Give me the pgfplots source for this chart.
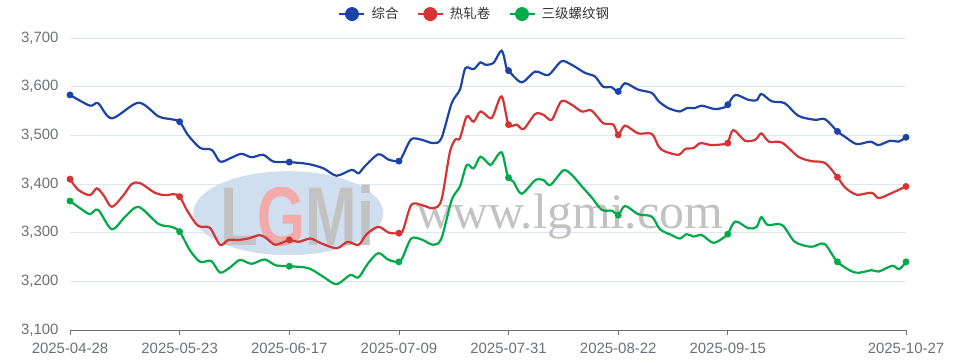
\documentclass[border=0pt]{standalone}
\usepackage{pgfplots}
\pgfplotsset{compat=1.18}
\usepackage{fontspec}
\setmainfont{Liberation Sans}
\newfontfamily\cjk{Noto Sans CJK SC}
\newfontfamily\wmserif{Liberation Serif}
\definecolor{cblue}{RGB}{28,68,168}
\definecolor{cred}{RGB}{214,52,52}
\definecolor{cgreen}{RGB}{0,170,72}
\definecolor{tickgray}{HTML}{6E7079}
\definecolor{gridc}{HTML}{E0E6F1}
\definecolor{wmblue}{HTML}{CFDFF0}
\definecolor{wmgray}{HTML}{C2C2C2}
\definecolor{wmpink}{HTML}{F5AAAA}
\definecolor{legtext}{HTML}{333333}
\begin{document}
\begin{tikzpicture}
\path[use as bounding box] (-70bp,-34bp) rectangle (887bp,330bp);
\begin{axis}[
  at={(0,0)}, anchor=south west,
  scale only axis, width=836bp, height=292bp,
  xmin=0, xmax=122, ymin=3100, ymax=3700,
  xtick={0,16,32,48,64,80,96,122},
  xticklabels={2025-04-28,2025-05-23,2025-06-17,2025-07-09,2025-07-31,2025-08-22,2025-09-15,2025-10-27},
  ytick={3100,3200,3300,3400,3500,3600,3700},
  ymajorgrids, major grid style={gridc, line width=0.8bp},
  axis lines*=left,
  y axis line style={draw=none},
  x axis line style={tickgray, line width=0.8bp},
  tick align=outside, major tick length=5bp,
  xtick style={tickgray, line width=0.8bp},
  ytick style={draw=none},
  tick label style={font=\fontsize{15}{18}\selectfont, text=tickgray},
  xticklabel style={yshift=-5bp},
  /pgf/number format/assume math mode=true,
  /pgf/number format/1000 sep={,},
  scaled y ticks=false,
  yticklabel style={xshift=-3bp},
  legend columns=3,
  legend style={draw=none, fill=none, at={(0.484,1.082)}, anchor=center,
    font=\cjk\fontsize{13.5}{16}\selectfont, text=legtext,
    /tikz/every odd column/.append style={column sep=4bp},
    /tikz/every even column/.append style={column sep=16bp}},
  legend image code/.code={\draw[#1,line width=2.4bp] (0bp,0bp) -- (25bp,0bp); \fill[#1,draw=none] (12.5bp,0bp) circle[radius=7bp];},
  every axis plot/.append style={line width=2.2bp},
]
% watermark
\fill[wmblue] (rel axis cs:0.261,0.40) ellipse [x radius=95bp, y radius=42bp];
\node[font=\bfseries\fontsize{62}{62}\selectfont, text=wmgray, yscale=1.35, transform shape] at (rel axis cs:0.272,0.39) {L\textcolor{wmpink}{G}Mi};
\node[anchor=base west, font=\wmserif\fontsize{50}{50}\selectfont, text=wmgray] at (rel axis cs:0.41,0.349) {www.lgmi.com};

\addplot[cblue, smooth, mark=none] coordinates {
(0,3583)(2.9,3561)(4.1,3566)(6.1,3535)(10,3567)(12.9,3539)(14.8,3533)(16,3528)(17.2,3501)(19,3474)(20.7,3470)(21.9,3446)(23.4,3453)(25,3462)(26.5,3455)(28.2,3460)(29.7,3446)(32,3445)(34.8,3441)(37,3432)(38.9,3417)(41.1,3429)(42.1,3422)(43,3436)(45,3461)(46.5,3450)(48,3447)(48.6,3460)(49.8,3492)(51.3,3491)(53,3484)(54.2,3494)(55.7,3566)(56.9,3594)(57.7,3638)(58.9,3636)(59.9,3650)(60.6,3645)(61.8,3649)(63,3674)(63.7,3638)(64,3633)(65.9,3609)(67.9,3631)(69.8,3624)(71.7,3652)(73.2,3645)(75.2,3628)(76.6,3621)(77.8,3600)(79,3599)(80,3590)(81,3607)(82.9,3594)(84.9,3587)(85.9,3570)(87.3,3556)(89,3549)(90,3556)(91.2,3556)(92.2,3561)(94.1,3554)(95.6,3558)(96,3563)(97.1,3583)(99,3573)(100.2,3572)(100.9,3585)(102.4,3570)(104.3,3566)(106.3,3540)(108.7,3532)(110.2,3533)(112,3508)(113.1,3497)(114.8,3482)(116.8,3487)(118,3480)(119.7,3489)(120.9,3487)(122,3496)
};
\addlegendentry{综合}
\addplot[cred, smooth, mark=none] coordinates {
(0,3410)(1.2,3388)(2.9,3377)(3.9,3391)(4.9,3377)(6.1,3353)(7.8,3377)(9,3400)(10.2,3402)(12.4,3382)(13.9,3377)(15.1,3379)(16,3374)(17.2,3343)(18.7,3314)(20.4,3310)(21.9,3275)(23.1,3285)(24.6,3285)(26,3288)(27.7,3295)(28.7,3288)(30,3275)(32,3285)(33.3,3281)(35.1,3288)(36.5,3279)(38.9,3268)(40.5,3281)(42.1,3275)(43.3,3297)(45,3312)(46.5,3300)(48,3299)(48.6,3305)(49.8,3357)(51.3,3357)(53,3350)(54.2,3367)(55.4,3463)(56.2,3491)(56.9,3494)(57.9,3539)(58.9,3528)(59.9,3549)(61.3,3535)(61.8,3542)(63,3580)(64,3522)(65.2,3522)(66.2,3513)(67.9,3544)(69.1,3542)(70.3,3532)(71.7,3570)(73.2,3563)(74.7,3549)(76.1,3551)(77.8,3525)(79.3,3522)(80,3501)(81,3520)(82.9,3504)(84.9,3503)(85.9,3477)(86.8,3467)(88.8,3460)(89.8,3472)(91,3474)(92,3484)(93.6,3480)(95.6,3482)(96,3484)(96.8,3511)(98.5,3489)(100,3491)(100.9,3504)(102,3487)(103.9,3485)(106.3,3456)(108.2,3447)(110.2,3443)(112,3414)(113.1,3393)(114.8,3378)(117,3382)(118,3371)(119.7,3380)(122,3395)
};
\addlegendentry{热轧卷}
\addplot[cgreen, smooth, mark=none] coordinates {
(0,3365)(1.5,3350)(2.9,3338)(4.1,3347)(6.1,3307)(8,3332)(10,3353)(12.9,3318)(14.8,3312)(16,3302)(17.5,3264)(19,3240)(20.6,3242)(21.9,3218)(23.4,3229)(24.8,3244)(26.5,3236)(28.4,3245)(30,3233)(32,3231)(34.8,3227)(37,3209)(38.9,3194)(40.9,3213)(42.1,3208)(43.5,3237)(45,3258)(46.5,3244)(48,3240)(48.6,3251)(49.8,3288)(51.3,3286)(53,3275)(54.2,3288)(55.7,3367)(56.9,3395)(57.9,3439)(58.9,3432)(59.9,3456)(61.3,3439)(61.8,3446)(63,3465)(63.9,3415)(64.7,3405)(65.9,3380)(67.9,3408)(69.1,3408)(70.1,3398)(72,3428)(73.2,3419)(74.7,3395)(76.1,3373)(77.6,3347)(79.1,3345)(80,3336)(81,3355)(82.9,3338)(84.9,3333)(86.1,3307)(87.8,3295)(89,3288)(90,3297)(91,3292)(92.2,3295)(93.9,3279)(95.6,3292)(96,3297)(97.1,3323)(99,3309)(100.2,3312)(100.9,3332)(101.8,3316)(103.9,3316)(105.8,3281)(108.2,3271)(110.1,3277)(112,3240)(114.6,3218)(117,3223)(118,3220)(120,3232)(121,3225)(122,3240)
};
\addlegendentry{三级螺纹钢}

\addplot[cblue, only marks, mark=*, mark size=2.3bp, forget plot] coordinates {(0,3583)(16,3528)(32,3445)(48,3447)(64,3633)(80,3590)(96,3563)(112,3508)(122,3496)};
\addplot[cred, only marks, mark=*, mark size=2.3bp, forget plot] coordinates {(0,3410)(16,3374)(32,3285)(48,3299)(64,3522)(80,3501)(96,3484)(112,3414)(122,3395)};
\addplot[cgreen, only marks, mark=*, mark size=2.3bp, forget plot] coordinates {(0,3365)(16,3302)(32,3231)(48,3240)(64,3413)(80,3336)(96,3297)(112,3240)(122,3240)};
\end{axis}
\end{tikzpicture}
\end{document}
